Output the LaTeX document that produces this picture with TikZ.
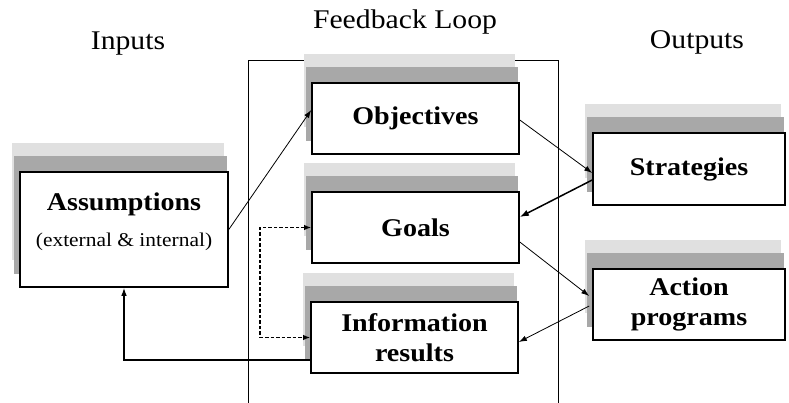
\documentclass[tikz,border=0pt]{standalone}
\usepackage{fontspec}
\setmainfont[FakeStretch=1.1]{Liberation Serif}
\usetikzlibrary{arrows.meta,backgrounds,calc}
\definecolor{shlight}{gray}{0.88}
\definecolor{shdark}{gray}{0.66}
\begin{document}
\begin{tikzpicture}[x=1pt,y=-1pt,
  box/.style={draw, line width=1.6pt, fill=white, inner sep=0pt, align=center,
    font=\fontsize{25.5}{30}\selectfont\bfseries},
  boxtext/.style={inner sep=0pt, align=center, font=\fontsize{25.5}{30}\selectfont\bfseries},
  titletext/.style={font=\fontsize{27}{32}\selectfont},
  conn/.style={line width=0.8pt, -{Latex[length=8pt,width=5.5pt]}},
  thickconn/.style={line width=1.5pt, -{Latex[length=9pt,width=6.5pt]}},
  dashconn/.style={line width=1.7pt, dash pattern=on 3.5pt off 2pt,
    {Latex[length=7pt,width=5.5pt]}-{Latex[length=7pt,width=5.5pt]}},
  frameline/.style={line width=0.8pt},
]
\useasboundingbox (0,0) rectangle (789,403);

% titles
\node[titletext] (tin) at (128,44) {Inputs};
\node[titletext] (tfb) at (405,22) {Feedback Loop};
\node[titletext] (tout) at (697,42) {Outputs};

% boxes
\node[box, minimum width=208pt, minimum height=115pt] (asm) at (124,229.5) {};
\node[boxtext] (asmtxt) at ([yshift=8pt]asm.center)
  {Assumptions\\[6pt]{\fontsize{19.5}{24}\selectfont\mdseries (external \& internal)}};
\node[box, minimum width=207pt, minimum height=71pt] (obj) at (415.5,118.5) {Objectives};
\node[box, minimum width=207pt, minimum height=71pt] (goal) at (415.5,227.5) {Goals};
\node[box, minimum width=207pt, minimum height=71pt] (info) at (414.5,337.5) {Information\\results};
\node[box, minimum width=192pt, minimum height=72pt] (strat) at (689,169) {Strategies};
\node[box, minimum width=192pt, minimum height=71pt] (act) at (689,304.5) {Action\\programs};

% frame and shadows behind
\begin{scope}[on background layer]
  \draw[frameline] (248,403) coordinate (fbl) -- (248,60) -- (558,60) -- (558,403) coordinate (fbr);
  \foreach \n in {asm,obj,goal,info,strat,act}{
    \fill[shlight] ([xshift=-7pt,yshift=28pt]\n.north west) rectangle ([xshift=-5pt,yshift=28pt]\n.south east);
    \fill[shdark] ([xshift=-5pt,yshift=15pt]\n.north west) rectangle ([xshift=-2pt,yshift=14pt]\n.south east);
  }
\end{scope}

% connectors
\draw[conn] (asm.east) -- ([yshift=8.5pt]obj.west);
\draw[conn] ([yshift=-1.5pt]obj.east) -- ([yshift=-4pt]strat.west);
\draw[thickconn] ([yshift=-11pt]strat.west) -- ([yshift=10.5pt]goal.east);
\draw[conn] ([yshift=-14.5pt]goal.east) -- ([xshift=-3pt,yshift=8.5pt]act.west);
\draw[conn] ([xshift=-3pt,yshift=-1.5pt]act.west) -- ([yshift=-4.5pt]info.east);
\draw[line width=1.2pt, -{Latex[length=8pt,width=5.5pt]}] ([yshift=-22.5pt]info.west) -| (asm.south);
\draw[dashconn] (goal.west) -- ++(-51,0) |- (info.west);
\end{tikzpicture}
\end{document}
